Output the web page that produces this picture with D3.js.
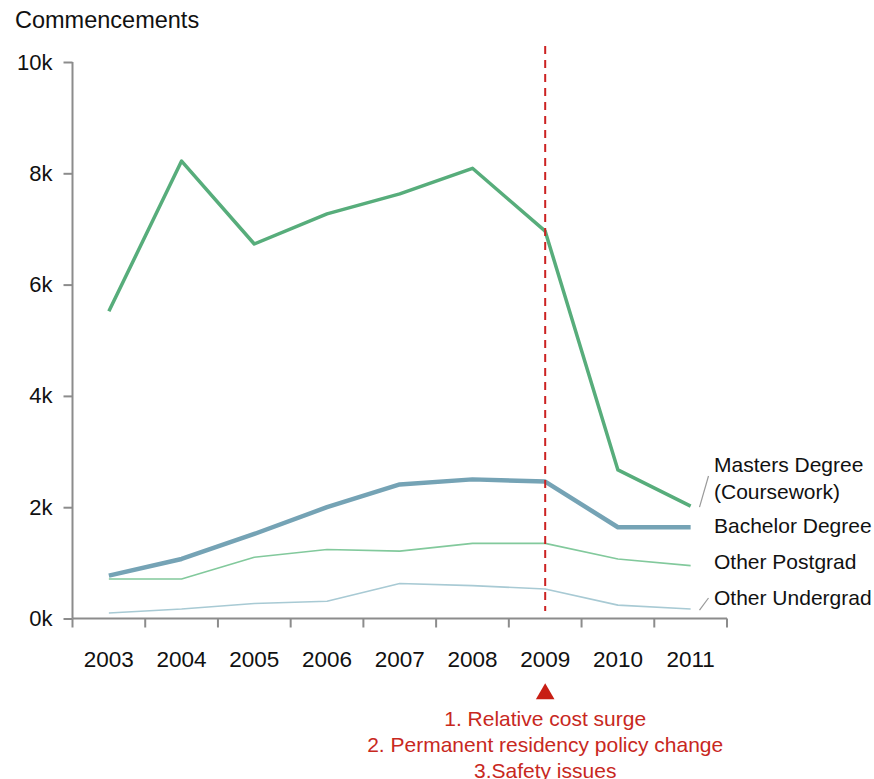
<!DOCTYPE html>
<html>
<head>
<meta charset="utf-8">
<script src="https://cdn.jsdelivr.net/npm/d3@7/dist/d3.min.js"></script>
<style>
  html, body { margin: 0; padding: 0; background: #fff; }
  svg { display: block; font-family: "Liberation Sans", Arial, sans-serif; }
</style>
</head>
<body>
<svg id="chart" width="874" height="779"></svg>
<script>
// Commencements by course level, 2003–2011
const years = ["2003", "2004", "2005", "2006", "2007", "2008", "2009", "2010", "2011"];
const masters = [5520, 8220, 6730, 7270, 7630, 8090, 6960, 2670, 2020];
const bachelor = [770, 1070, 1520, 2000, 2410, 2500, 2460, 1640, 1640];
const otherPostgrad = [710, 710, 1100, 1240, 1210, 1350, 1350, 1070, 950];
const otherUndergrad = [100, 170, 270, 310, 630, 590, 530, 240, 170];
const yTicks = [0, 2000, 4000, 6000, 8000, 10000];
const eventYear = "2009";
const eventNotes = ["1. Relative cost surge", "2. Permanent residency policy change", "3.Safety issues"];

const seriesList = [
  { name: ["Masters Degree", "(Coursework)"], values: masters, color: "#57ad7b", width: 3.5, connector: true },
  { name: ["Bachelor Degree"], values: bachelor, color: "#75a3b5", width: 4.5, connector: false },
  { name: ["Other Postgrad"], values: otherPostgrad, color: "#82c99c", width: 1.6, connector: false },
  { name: ["Other Undergrad"], values: otherUndergrad, color: "#a8cad4", width: 1.6, connector: true }
];

const svg = d3.select("#chart");
const axisColor = "#8c8c8c";

const x = d3.scaleBand().domain(years).range([72.5, 727]);
const xc = d => x(d) + x.bandwidth() / 2;
const y = d3.scaleLinear().domain([0, 10000]).range([618.5, 62]);

// Y axis title
svg.append("text").attr("x", 15).attr("y", 28)
  .attr("font-size", 23.5).attr("fill", "#111").text("Commencements");

// Y axis
const yAxis = svg.append("g").attr("transform", "translate(72.5,0)")
  .call(d3.axisLeft(y).tickValues(yTicks).tickSize(9).tickPadding(11)
    .tickFormat(d => (d / 1000) + "k"));
yAxis.select(".domain").attr("stroke", axisColor).attr("stroke-width", 2)
  .attr("d", `M0,${y(10000)}V${y(0)}`);
yAxis.selectAll(".tick line").attr("stroke", axisColor).attr("stroke-width", 2);
yAxis.selectAll(".tick text").attr("font-size", 22).attr("fill", "#111")
  .attr("font-family", "Liberation Sans, Arial, sans-serif");

// X axis: ticks on band edges, labels at band centres
const xAxisG = svg.append("g").attr("transform", `translate(0,${y(0)})`);
xAxisG.append("line").attr("x1", 72.5).attr("x2", 727).attr("stroke", axisColor).attr("stroke-width", 2);
const edges = years.map(d => x(d)).concat([x(years[years.length - 1]) + x.bandwidth()]);
xAxisG.selectAll("line.tk").data(edges).join("line").attr("class", "tk")
  .attr("x1", d => d).attr("x2", d => d).attr("y1", 0).attr("y2", 9)
  .attr("stroke", axisColor).attr("stroke-width", 2);
xAxisG.selectAll("text").data(years).join("text")
  .attr("x", d => xc(d)).attr("y", 48).attr("text-anchor", "middle")
  .attr("font-size", 22.5).attr("fill", "#111").text(d => d);

// Series lines
const line = d3.line().x((v, i) => xc(years[i])).y(v => y(v));
seriesList.slice().reverse().forEach(s => {
  svg.append("path").datum(s.values).attr("d", line)
    .attr("fill", "none").attr("stroke", s.color).attr("stroke-width", s.width)
    .attr("stroke-linejoin", "round");
});

// Event marker
const ex = xc(eventYear);
svg.append("line").attr("x1", ex).attr("x2", ex).attr("y1", 46).attr("y2", 611)
  .attr("stroke", "#cc2222").attr("stroke-width", 2).attr("stroke-dasharray", "8,6");
svg.append("path").attr("d", d3.symbol().type(d3.symbolTriangle).size(150)())
  .attr("transform", `translate(${ex},694)`).attr("fill", "#c81e14");
svg.selectAll("text.note").data(eventNotes).join("text").attr("class", "note")
  .attr("x", ex).attr("y", (d, i) => 726 + i * 26).attr("text-anchor", "middle")
  .attr("font-size", 21).attr("fill", "#c8281e").text(d => d);

// Legend labels at line ends
const last = years.length - 1;
const labelY = [472, 533, 569, 605];
seriesList.forEach((s, i) => {
  const t = svg.append("text").attr("x", 714).attr("y", labelY[i])
    .attr("font-size", 21).attr("fill", "#111");
  s.name.forEach((n, j) => t.append("tspan").attr("x", 714).attr("dy", j ? 27 : 0).text(n));
  if (s.connector) {
    const yEnd = y(s.values[last]);
    const yTop = i === 0 ? 476 : 598;
    svg.append("line").attr("x1", 699.5).attr("y1", yEnd + 1).attr("x2", 708.5).attr("y2", yTop)
      .attr("stroke", "#9a9a9a").attr("stroke-width", 1.2);
  }
});
</script>
</body>
</html>
